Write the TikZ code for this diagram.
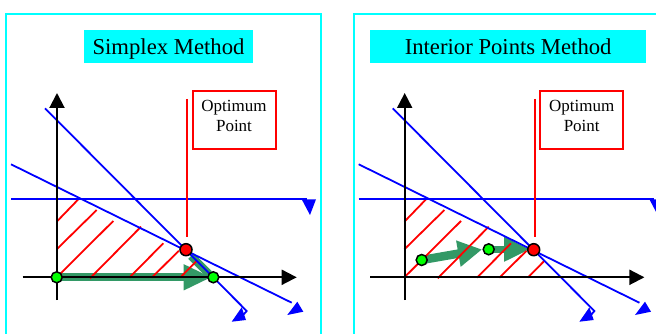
\documentclass[tikz,border=0pt]{standalone}
\usepackage{fontspec}
\setmainfont{Liberation Serif}
\usetikzlibrary{arrows.meta}
\definecolor{cyanb}{RGB}{0,255,255}
\definecolor{sgreen}{RGB}{51,153,102}
\definecolor{ptgreen}{RGB}{0,255,0}
\begin{document}
\begin{tikzpicture}[x=1pt,y=-1pt,
  border/.style={draw=cyanb,line width=2pt},
  titlebox/.style={fill=cyanb,inner sep=0pt,minimum height=33pt},
  titletext/.style={font=\fontsize{22.7}{27}\selectfont,inner sep=0pt,anchor=base},
  bluel/.style={draw=blue,line width=1.8pt},
  bluetip/.style={fill=blue},
  axis/.style={draw=black,line width=2pt,-{Triangle[length=15pt,width=15pt]}},
  hatch/.style={draw=red,line width=1.8pt},
  redline/.style={draw=red,line width=1.8pt},
  gpath/.style={draw=sgreen,line width=8pt,-{Triangle[length=28pt,width=24pt]}},
  gpath1/.style={draw=sgreen,line width=8.5pt,-{Triangle[length=24pt,width=25pt]}},
  gpath2/.style={draw=sgreen,line width=7pt,-{Triangle[length=26pt,width=23pt]}},
  gbar/.style={draw=sgreen,line width=8pt},
  optbox/.style={draw=red,line width=2pt,minimum width=83pt,minimum height=58pt,inner sep=0pt},
  opttext/.style={font=\fontsize{17}{20}\selectfont,inner sep=0pt,anchor=base},
  gpt/.style={circle,fill=ptgreen,draw=black,line width=1.5pt,minimum size=11pt,inner sep=0pt},
  rpt/.style={circle,fill=red,draw=black,line width=1.5pt,minimum size=12pt,inner sep=0pt},
]
\useasboundingbox (0,0) rectangle (656,334);
\clip (0,0) rectangle (656,334);
\fill[white] (0,0) rectangle (656,334);

% titles
\node[titlebox,minimum width=169pt] (tL) at (168.5,46.5) {};
\node[titletext] (ttL) at (168.5,55) {Simplex Method};
\node[titlebox,minimum width=275.7pt] (tR) at (508.15,46.5) {};
\node[titletext] (ttR) at (508.15,55) {Interior Points Method};

% green moves (below hatching)
\coordinate (gL1) at (56.7,277.3);
\coordinate (gL2) at (213.3,277.3);
\coordinate (gR1) at (421.7,260);
\coordinate (gR2) at (488.7,249.3);
\coordinate (tipL) at (211.7,277.3);
\coordinate (dA) at (209,274);
\coordinate (dB) at (191,256);
\coordinate (tipR1) at (482,249.5);
\coordinate (tipR2) at (530,249.3);
\draw[gbar] (dA) -- (dB);
\draw[gpath] (gL1) -- (tipL);
\draw[gpath1] (gR1) -- (tipR1);
\draw[gpath2] (gR2) -- (tipR2);

\foreach \sx/\k in {0/L,347.7/R}{
  \begin{scope}[shift={(\sx,0)}]
    \draw[border] (6,14) rectangle (321,345);
    % hatching
    \draw[hatch] (56.7,221.7) -- (79.3,198.3);
    \draw[hatch] (56.7,249.3) -- (96.7,210);
    \draw[hatch] (56.7,277.3) -- (113.3,221);
    \draw[hatch] (90,278.3) -- (141,226.7);
    \draw[hatch] (129.3,277.7) -- (163.3,243.3);
    \draw[hatch] (151.7,277.7) -- (178.8,250.8);
    \draw[hatch] (180.3,277.5) -- (197,260.5);
    % constraint lines
    \coordinate (sA\k) at (45,108.3);
    \coordinate (sB\k) at (246.7,311);
    \coordinate (sC\k) at (243.8,314.3);
    \coordinate (hA\k) at (11,164.3);
    \coordinate (hB\k) at (291.7,302.7);
    \coordinate (zA\k) at (11,199);
    \coordinate (zB\k) at (306.7,199);
    \draw[bluel] (sA\k) -- (sB\k) -- (sC\k);
    \fill[bluetip] (231.7,321.7) -- (246,320) -- (241.7,307.3) -- cycle;
    \draw[bluel] (hA\k) -- (hB\k);
    \fill[bluetip] (287.3,315) -- (303.3,311.7) -- (297.3,301.7) -- cycle;
    \draw[bluel] (zA\k) -- (zB\k);
    \fill[bluetip] (301.7,199.3) -- (316,199.3) -- (310,215) -- cycle;
    % axes
    \coordinate (yb\k) at (57,300);
    \coordinate (yt\k) at (57,93);
    \coordinate (xl\k) at (22.7,277.3);
    \coordinate (xr\k) at (296.7,277.3);
    \draw[axis] (yb\k) -- (yt\k);
    \draw[axis] (xl\k) -- (xr\k);
    % optimum label
    \coordinate (vA\k) at (187.3,99);
    \coordinate (vB\k) at (187.3,236.7);
    \draw[redline] (vA\k) -- (vB\k);
    \node[optbox] (opt\k) at (234,119.85) {};
    \node[opttext] (optA\k) at (234,111.7) {Optimum};
    \node[opttext] (optB\k) at (234,131.7) {Point};
    \node[rpt] (rp\k) at (186,249.7) {};
  \end{scope}
}

% points
\node[gpt] (pL1) at (gL1) {};
\node[gpt] (pL2) at (gL2) {};
\node[gpt] (pR1) at (gR1) {};
\node[gpt] (pR2) at (gR2) {};
\end{tikzpicture}
\end{document}
